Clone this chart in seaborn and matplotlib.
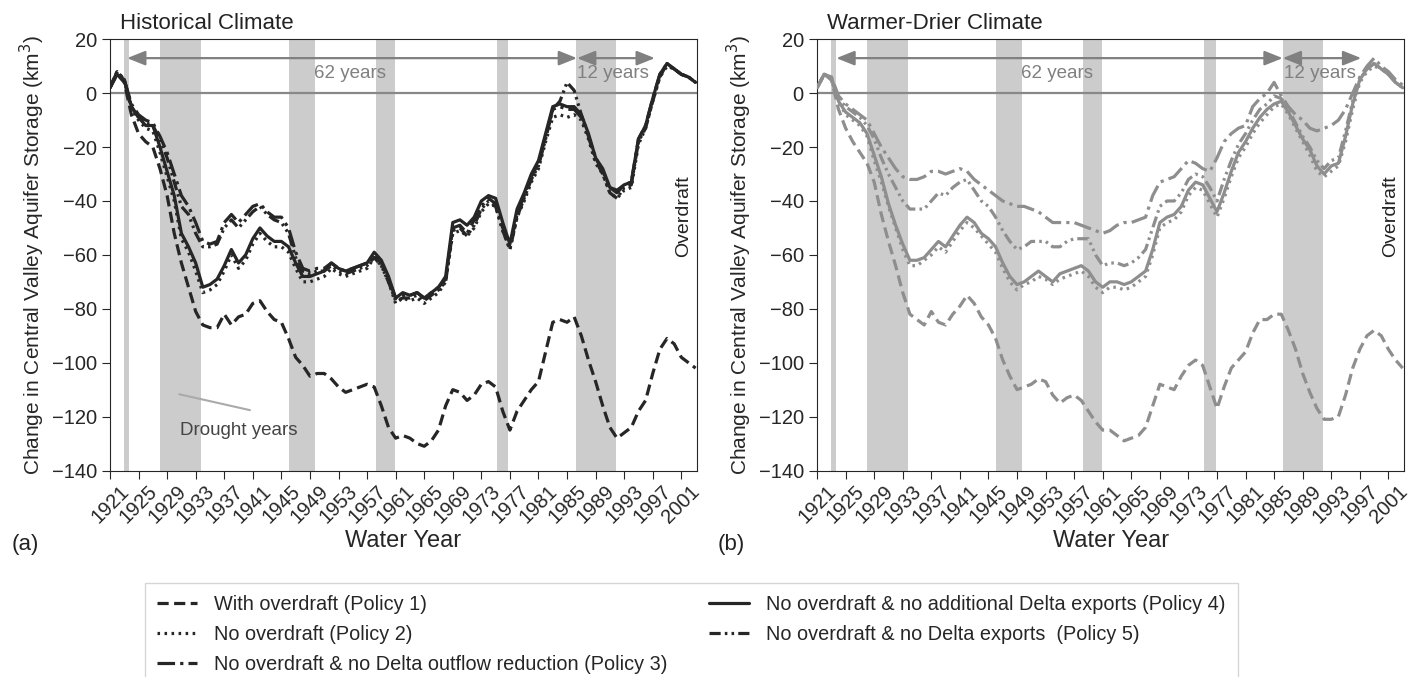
import numpy as np
import pandas as pd
import matplotlib
matplotlib.use("Agg")
import matplotlib.pyplot as plt
from matplotlib.lines import Line2D
import seaborn as sns

# Water years shown on the x axis
years = np.arange(1921, 2004)

# Historical climate, change in storage (km3)
hist_p1 = [2, 7, 4, -8, -15, -18, -20, -28, -38, -52,
           -63, -72, -81, -86, -87, -87, -82, -86, -83, -82,
           -78, -77, -81, -84, -85, -91, -98, -101, -105, -104,
           -104, -106, -109, -111, -110, -109, -108, -109, -116, -124,
           -128, -127, -128, -130, -131, -129, -125, -116, -110, -111,
           -114, -112, -108, -107, -109, -118, -125, -118, -114, -110,
           -107, -96, -85, -84, -85, -83, -90, -99, -107, -116,
           -124, -128, -126, -124, -118, -114, -104, -95, -91, -93,
           -98, -100, -102]
hist_p2 = [2, 8, 5, -6, -10, -13, -14, -22, -31, -40,
           -54, -59, -66, -74, -73, -71, -66, -60, -65, -62,
           -56, -52, -55, -57, -57, -59, -65, -70, -70, -69,
           -68, -65, -67, -68, -67, -66, -65, -61, -64, -70,
           -78, -76, -77, -76, -78, -76, -74, -70, -52, -51,
           -53, -50, -44, -41, -42, -51, -58, -46, -40, -33,
           -28, -18, -9, -8, -9, -8, -10, -17, -26, -30,
           -37, -39, -36, -35, -19, -13, -3, 6, 10, 9,
           7, 6, 4]
hist_p3 = [2, 8, 5, -4, -8, -10, -11, -16, -22, -30,
           -38, -42, -48, -55, -56, -55, -48, -45, -48, -45,
           -42, -41, -44, -46, -46, -50, -59, -65, -66, -65,
           -65, -63, -65, -66, -65, -64, -63, -60, -63, -69,
           -76, -75, -75, -74, -76, -74, -72, -69, -50, -49,
           -52, -47, -42, -39, -41, -50, -57, -45, -38, -31,
           -26, -16, -6, -5, -6, -6, -9, -16, -24, -29,
           -35, -37, -34, -33, -17, -12, -2, 7, 11, 9,
           7, 6, 4]
hist_p4 = [2, 7, 5, -5, -9, -12, -12, -20, -29, -38,
           -52, -57, -63, -72, -71, -69, -64, -58, -63, -60,
           -54, -50, -53, -55, -55, -57, -63, -68, -68, -67,
           -66, -63, -65, -66, -65, -64, -63, -59, -62, -68,
           -76, -74, -75, -74, -76, -74, -72, -68, -48, -47,
           -49, -46, -40, -38, -39, -48, -56, -43, -37, -30,
           -25, -15, -5, -4, -5, -5, -8, -15, -24, -28,
           -35, -36, -34, -33, -17, -12, -2, 7, 11, 9,
           7, 6, 4]
hist_p5 = [2, 8, 5, -5, -9, -11, -12, -17, -24, -33,
           -42, -45, -52, -57, -57, -56, -50, -47, -50, -47,
           -44, -42, -45, -47, -48, -52, -61, -66, -67, -66,
           -66, -64, -66, -67, -66, -65, -64, -61, -64, -70,
           -77, -76, -76, -75, -77, -75, -73, -70, -51, -50,
           -53, -49, -43, -40, -42, -51, -58, -46, -39, -32,
           -27, -17, -6, -3, 4, 1, -8, -16, -25, -30,
           -37, -39, -35, -34, -18, -13, -3, 6, 11, 9,
           7, 6, 4]

# Warmer-drier climate, change in storage (km3)
wd_p1 = [2, 7, 5, -6, -13, -18, -22, -26, -33, -45,
         -55, -64, -74, -82, -84, -86, -81, -85, -86, -82,
         -79, -75, -78, -83, -86, -91, -99, -105, -110, -109,
         -108, -106, -107, -112, -115, -113, -112, -114, -118, -122,
         -125, -125, -127, -129, -128, -127, -124, -116, -108, -109,
         -110, -105, -101, -99, -101, -109, -117, -109, -102, -99,
         -96, -89, -84, -84, -82, -82, -88, -95, -104, -111,
         -117, -121, -121, -120, -112, -102, -95, -90, -88, -90,
         -95, -99, -102]
wd_p2 = [2, 7, 5, -3, -8, -10, -12, -16, -25, -33,
         -42, -50, -58, -64, -64, -62, -60, -57, -59, -55,
         -51, -48, -50, -53, -56, -59, -65, -70, -73, -71,
         -70, -68, -69, -71, -69, -68, -67, -66, -68, -72,
         -74, -72, -72, -73, -72, -70, -68, -60, -50, -48,
         -47, -44, -38, -35, -36, -41, -46, -39, -31, -24,
         -20, -15, -11, -8, -5, -4, -8, -13, -18, -23,
         -29, -31, -29, -27, -18, -6, 4, 8, 10, 9,
         7, 4, 2]
wd_p3 = [2, 7, 6, -1, -4, -6, -8, -10, -15, -20,
         -24, -28, -31, -32, -32, -31, -29, -29, -30, -29,
         -28, -29, -32, -34, -36, -38, -40, -41, -42, -42,
         -43, -44, -46, -48, -48, -48, -48, -49, -50, -51,
         -52, -51, -49, -48, -48, -47, -46, -38, -33, -32,
         -31, -28, -25, -26, -28, -29, -24, -18, -15, -13,
         -12, -5, -2, 0, 4, -1, -5, -8, -10, -13,
         -14, -13, -12, -10, -6, 0, 6, 10, 13, 10,
         8, 5, 3]
wd_p4 = [2, 7, 6, -3, -7, -9, -11, -15, -23, -31,
         -41, -49, -56, -62, -62, -61, -58, -55, -57, -53,
         -49, -46, -48, -52, -54, -57, -63, -68, -71, -70,
         -68, -66, -68, -70, -67, -66, -65, -64, -66, -70,
         -72, -70, -70, -71, -70, -68, -66, -58, -48, -46,
         -45, -42, -36, -33, -34, -39, -44, -37, -29, -22,
         -18, -13, -9, -6, -4, -3, -7, -12, -17, -21,
         -27, -30, -27, -26, -16, -4, 5, 9, 11, 9,
         7, 4, 2]
wd_p5 = [2, 7, 5, -2, -5, -7, -9, -12, -17, -24,
         -30, -35, -40, -43, -43, -43, -40, -37, -38, -35,
         -33, -32, -36, -40, -42, -46, -51, -55, -58, -57,
         -55, -55, -55, -57, -57, -55, -54, -54, -54, -60,
         -64, -63, -63, -64, -63, -61, -58, -50, -42, -40,
         -40, -37, -32, -30, -31, -35, -40, -32, -25, -19,
         -15, -10, -6, -4, -1, -2, -6, -11, -16, -20,
         -25, -28, -25, -24, -14, -3, 5, 9, 11, 9,
         7, 4, 2]

# Drought periods (shaded)
droughts = [(1923.0, 1923.6), (1928.0, 1933.75), (1946.1, 1949.7),
            (1958.2, 1960.85), (1975.2, 1976.8), (1986.3, 1991.85)]

policy_names = ["With overdraft (Policy 1)",
                "No overdraft (Policy 2)",
                "No overdraft & no Delta outflow reduction (Policy 3)",
                "No overdraft & no additional Delta exports (Policy 4)",
                "No overdraft & no Delta exports  (Policy 5)"]
dash_styles = {policy_names[0]: (3.5, 1.7),
               policy_names[1]: (0.8, 1.4),
               policy_names[2]: (5.5, 1.6, 1.0, 1.6),
               policy_names[3]: "",
               policy_names[4]: (3.5, 1.3, 0.8, 1.3, 0.8, 1.3)}

sns.set_style("ticks")
plt.rcParams['font.family'] = ['Liberation Sans', 'DejaVu Sans']

fig = plt.figure(figsize=(14.19, 6.77), dpi=100)
ax_a = fig.add_axes([0.0775, 0.305, 0.4137, 0.637])
ax_b = fig.add_axes([0.5758, 0.305, 0.4137, 0.637])

panels = [
    (ax_a, [hist_p1, hist_p2, hist_p3, hist_p4, hist_p5], "#262626",
     "Historical Climate", "(a)", 0.008, (1923.4, 1986.4, 1997.3)),
    (ax_b, [wd_p1, wd_p2, wd_p3, wd_p4, wd_p5], "#8e8e8e",
     "Warmer-Drier Climate", "(b)", 0.506, (1923.7, 1986.2, 1997.2)),
]

for ax, series, col, title, tag, tag_x, arrow_x in panels:
    for start, end in droughts:
        ax.axvspan(start, end, color="#cccccc", lw=0, zorder=0)
    ax.axhline(0, color="#888888", lw=1.6, zorder=1)

    df = pd.DataFrame({
        "Water Year": np.tile(years, 5),
        "storage": np.concatenate(series),
        "policy": np.repeat(policy_names, len(years)),
    })
    sns.lineplot(data=df, x="Water Year", y="storage", style="policy",
                 dashes=dash_styles, color=col, lw=2.3, legend=False,
                 ax=ax, zorder=3)

    # period arrows
    arrow_kw = dict(arrowstyle="<|-|>,head_length=0.55,head_width=0.22",
                    mutation_scale=20, color="#808080", lw=1.6,
                    shrinkA=0, shrinkB=0)
    ax.annotate("", xy=(arrow_x[1], 13), xytext=(arrow_x[0], 13),
                arrowprops=arrow_kw, zorder=4)
    ax.annotate("", xy=(arrow_x[2], 13), xytext=(arrow_x[1], 13),
                arrowprops=arrow_kw, zorder=4)
    ax.text(1954.6, 7.4, "62 years", color="#808080", fontsize=13.5,
            ha="center", va="center")
    ax.text(1991.4, 7.4, "12 years", color="#808080", fontsize=13.5,
            ha="center", va="center")
    ax.text(2001.3, -45.5, "Overdraft", rotation=90, fontsize=14,
            ha="center", va="center", color="#222222")

    ax.set_xlim(1921, 2003.2)
    ax.set_ylim(-140, 20)
    ax.set_xticks(np.arange(1921, 2002, 4))
    ax.set_yticks(np.arange(-140, 21, 20))
    ax.tick_params(axis="x", labelrotation=45, labelsize=14.5, length=6,
                   pad=2)
    ax.tick_params(axis="y", labelsize=14.5, length=6)
    ax.set_xlabel("Water Year", fontsize=17, labelpad=2)
    ax.set_ylabel("Change in Central Valley Aquifer Storage (km$^3$)",
                  fontsize=15, labelpad=3)
    ax.text(0.017, 1.012, title, transform=ax.transAxes, fontsize=16,
            ha="left", va="bottom", color="#222222")
    fig.text(tag_x, 0.195, tag, fontsize=16, va="center", color="#222222")

# drought label
ax_a.plot([1930.7, 1940.6], [-111.7, -117.6], color="#aaaaaa", lw=1.5)
ax_a.text(1939.0, -125, "Drought years", fontsize=13.5, color="#444444",
          ha="center", va="center")

# legend
handles = [Line2D([0], [0], color="#262626", lw=2.3,
                  linestyle=(0, dash_styles[n]) if dash_styles[n] else "-")
           for n in policy_names]
fig.legend(handles, policy_names, loc="upper left",
           bbox_to_anchor=(0.102, 0.139), ncol=2, fontsize=14.3,
           handlelength=2.0, handletextpad=0.85, columnspacing=2.1,
           frameon=True, edgecolor="#cccccc", fancybox=False,
           borderaxespad=0, borderpad=0.63, labelspacing=0.55)

fig.savefig("out.png", dpi=100)
